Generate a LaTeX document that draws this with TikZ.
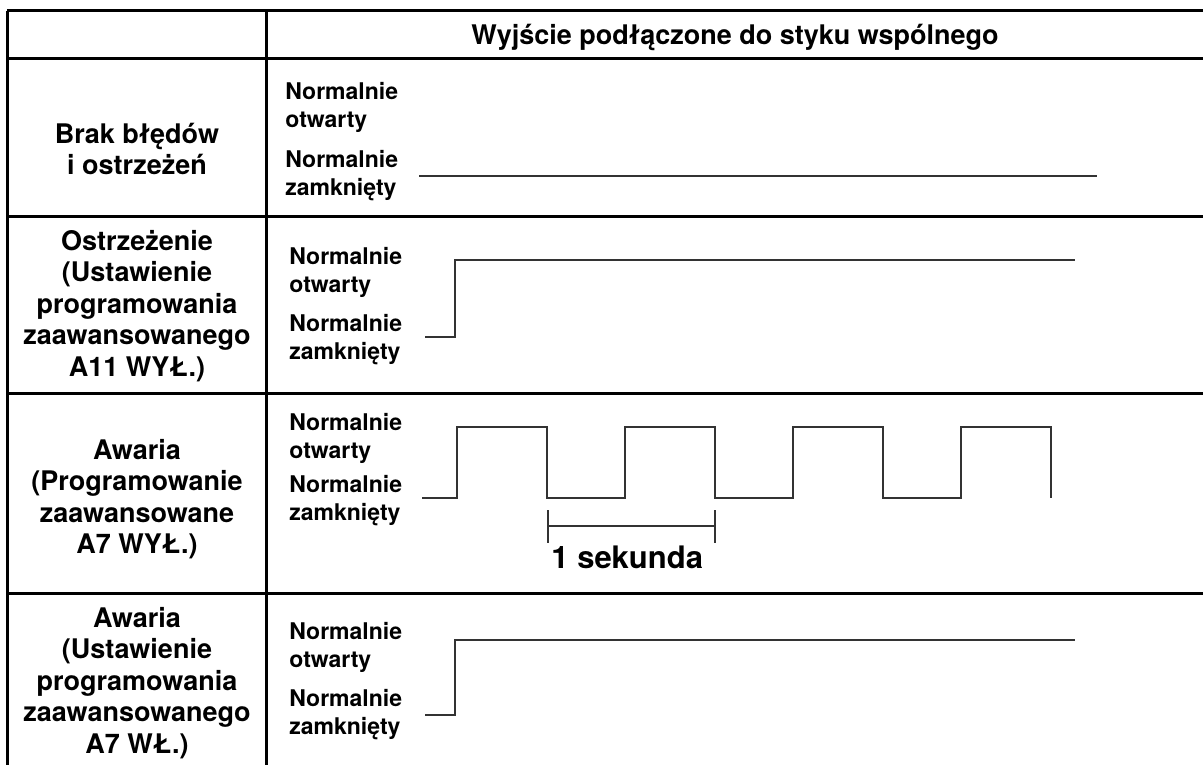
\documentclass[tikz,border=0pt]{standalone}
\usepackage{fontspec}
\setmainfont{TeX Gyre Heros}

\begin{document}
\begin{tikzpicture}[x=0.5pt, y=-0.5pt,
             every node/.style={inner sep=0pt, font=\bfseries\fontsize{13.5}{15.7}\selectfont},
             grid/.style={line width=1.5pt},
             sig/.style={line width=1.2pt, draw=black!80},
             state/.style={anchor=west, align=left, font=\bfseries\fontsize{11.5}{14}\selectfont},
             rowname/.style={align=center}]
\useasboundingbox (0,0) rectangle (1203,765);

% table frame
\draw[grid] (7,11) -- (1203,11);
\draw[grid] (7,59) -- (1203,59);
\draw[grid] (7,216) -- (1203,216);
\draw[grid] (7,393) -- (1203,393);
\draw[grid] (7,593) -- (1203,593);
\draw[grid] (7,11) -- (7,765);
\draw[grid] (266,11) -- (266,765);

\node (head) at (735,37) {Wyjście podłączone do styku wspólnego};

% left column
\node[rowname] (ok) at (137,149) {Brak błędów\\i ostrzeżeń};
\node[rowname] (warn) at (137,306) {Ostrzeżenie\\(Ustawienie\\programowania\\zaawansowanego\\A11 WYŁ.)};
\node[rowname] (fault) at (137,499) {Awaria\\(Programowanie\\zaawansowane\\A7 WYŁ.)};
\node[rowname] (faulton) at (137,683) {Awaria\\(Ustawienie\\programowania\\zaawansowanego\\A7 WŁ.)};

% state labels
\node[state] (okno) at (285,107) {Normalnie\\otwarty};
\node[state] (oknc) at (285,176) {Normalnie\\zamknięty};
\node[state] (warnno) at (289,272) {Normalnie\\otwarty};
\node[state] (warnnc) at (289,340) {Normalnie\\zamknięty};
\node[state] (faultno) at (289,438) {Normalnie\\otwarty};
\node[state] (faultnc) at (289,501) {Normalnie\\zamknięty};
\node[state] (faultonno) at (289,647) {Normalnie\\otwarty};
\node[state] (faultonnc) at (289,715) {Normalnie\\zamknięty};

% signals
\draw[sig] (419,176) -- (1097,176);
\draw[sig] (425,337) -- (455,337) -- (455,260) -- (1075,260);
\draw[sig] (422,498) \foreach \t in {457,625,793,961} { -- (\t,498) -- (\t,427) -- (\t+90,427) -- (\t+90,498) };
\draw[sig] (425,715) -- (455,715) -- (455,640) -- (1075,640);

% one second
\draw[sig] (548,510) -- (548,543);
\draw[sig] (715,510) -- (715,543);
\draw[sig] (548,526) -- (715,526);
\node (sec) at (551,557) [anchor=west, font=\bfseries\fontsize{15.5}{18}\selectfont] {1 sekunda};

\end{tikzpicture}
\end{document}
